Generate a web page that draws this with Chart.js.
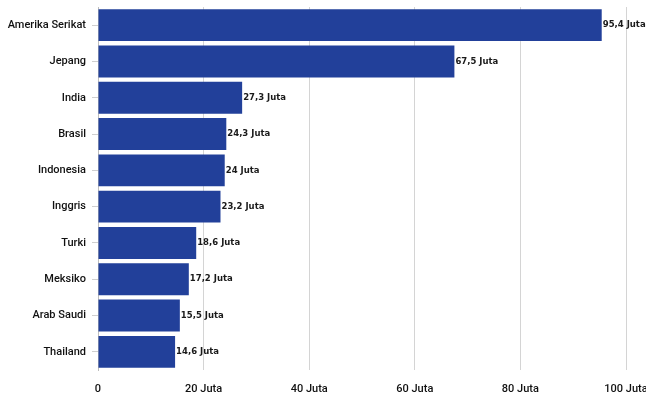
<!DOCTYPE html>
<html lang="id">
<head>
    <meta charset="UTF-8">
    <script src="https://cdn.jsdelivr.net/npm/chart.js"></script>
    <title>Negara</title>
    <style>
        html, body { margin: 0; padding: 0; background: #fff; }
        #wrap { width: 646px; height: 394px; }
    </style>
</head>
<body>
    <div id="wrap"><canvas id="chart"></canvas></div>
    <script>
        // data
        var countries = ['Amerika Serikat', 'Jepang', 'India', 'Brasil', 'Indonesia', 'Inggris', 'Turki', 'Meksiko', 'Arab Saudi', 'Thailand'];
        var values = [95.4, 67.5, 27.3, 24.3, 24, 23.2, 18.6, 17.2, 15.5, 14.6];
        var xTicks = [0, 20, 40, 60, 80, 100];

        function juta(v) {
            return v === 0 ? '0' : String(v).replace('.', ',') + ' Juta';
        }

        // value labels at the end of each bar
        var endLabels = {
            id: 'endLabels',
            afterDatasetsDraw: function (chart) {
                var ctx = chart.ctx;
                var meta = chart.getDatasetMeta(0);
                ctx.save();
                ctx.font = 'bold 8.5px "DejaVu Sans"';
                ctx.fillStyle = '#1a1a1a';
                ctx.textBaseline = 'middle';
                meta.data.forEach(function (bar, i) {
                    ctx.fillText(juta(values[i]), bar.x + 1, bar.y);
                });
                ctx.restore();
            }
        };

        new Chart(document.getElementById('chart'), {
            type: 'bar',
            data: {
                labels: countries,
                datasets: [{
                    data: values,
                    backgroundColor: '#22409a',
                    borderWidth: 0,
                    barPercentage: 0.88,
                    categoryPercentage: 1
                }]
            },
            options: {
                indexAxis: 'y',
                responsive: true,
                maintainAspectRatio: false,
                animation: false,
                layout: { padding: { top: 7, right: 20, bottom: 0, left: 0 } },
                plugins: {
                    legend: { display: false },
                    tooltip: { enabled: false }
                },
                scales: {
                    x: {
                        min: 0,
                        max: 100,
                        afterBuildTicks: function (axis) {
                            axis.ticks = xTicks.map(function (v) { return { value: v }; });
                        },
                        afterFit: function (axis) {
                            axis.height = 24;
                            axis.paddingRight = 0;
                            axis.paddingLeft = 0;
                            axis.paddingTop = 0;
                            axis.paddingBottom = 0;
                        },
                        grid: { color: '#d4d4d4', drawTicks: false, lineWidth: 1 },
                        border: { display: false },
                        ticks: {
                            padding: 13,
                            color: '#111',
                            font: { family: 'Roboto', size: 11, weight: '500' },
                            callback: function (v) { return juta(v); }
                        }
                    },
                    y: {
                        afterFit: function (axis) {
                            axis.width = 98;
                            axis.paddingTop = 0;
                            axis.paddingBottom = 0;
                        },
                        grid: { drawOnChartArea: false, offset: false, color: '#cfcfcf', tickLength: 6 },
                        border: { display: true, color: '#bdbdbd' },
                        ticks: {
                            padding: 6,
                            color: '#111',
                            font: { family: 'Roboto', size: 11, weight: '500' }
                        }
                    }
                }
            },
            plugins: [endLabels]
        });
    </script>
</body>
</html>
